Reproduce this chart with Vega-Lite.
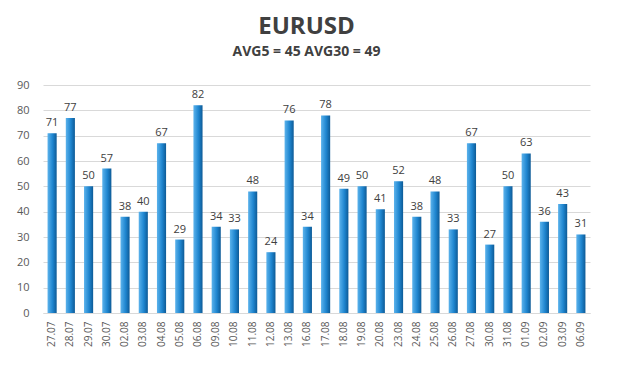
{
  "$schema": "https://vega.github.io/schema/vega-lite/v6.json",
  "autosize": "none",
  "width": 547,
  "height": 228,
  "padding": {"left": 43, "top": 85, "right": 30, "bottom": 79},
  "background": "white",
  "title": {
    "text": "EURUSD",
    "subtitle": "AVG5 = 45 AVG30 = 49",
    "anchor": "middle",
    "dx": -10,
    "offset": 20,
    "font": "Open Sans",
    "fontSize": 24,
    "fontWeight": "bold",
    "color": "#404040",
    "subtitleFont": "Open Sans",
    "subtitleFontSize": 14,
    "subtitleFontWeight": "bold",
    "subtitleColor": "#404040",
    "subtitlePadding": 6
  },
  "data": {
    "values": [
      {"date": "27.07", "v": 71}, {"date": "28.07", "v": 77}, {"date": "29.07", "v": 50},
      {"date": "30.07", "v": 57}, {"date": "02.08", "v": 38}, {"date": "03.08", "v": 40},
      {"date": "04.08", "v": 67}, {"date": "05.08", "v": 29}, {"date": "06.08", "v": 82},
      {"date": "09.08", "v": 34}, {"date": "10.08", "v": 33}, {"date": "11.08", "v": 48},
      {"date": "12.08", "v": 24}, {"date": "13.08", "v": 76}, {"date": "16.08", "v": 34},
      {"date": "17.08", "v": 78}, {"date": "18.08", "v": 49}, {"date": "19.08", "v": 50},
      {"date": "20.08", "v": 41}, {"date": "23.08", "v": 52}, {"date": "24.08", "v": 38},
      {"date": "25.08", "v": 48}, {"date": "26.08", "v": 33}, {"date": "27.08", "v": 67},
      {"date": "30.08", "v": 27}, {"date": "31.08", "v": 50}, {"date": "01.09", "v": 63},
      {"date": "02.09", "v": 36}, {"date": "03.09", "v": 43}, {"date": "06.09", "v": 31}
    ]
  },
  "encoding": {
    "x": {
      "field": "date", "type": "nominal", "sort": null,
      "scale": {"paddingInner": 0.5, "paddingOuter": 0.25},
      "axis": {
        "title": null, "labelAngle": -90, "labelFont": "Open Sans", "labelFontSize": 10,
        "labelColor": "#595959", "ticks": false, "domain": true, "domainColor": "#d9d9d9",
        "labelPadding": 8
      }
    },
    "y": {
      "field": "v", "type": "quantitative",
      "scale": {"domain": [0, 90]},
      "axis": {
        "title": null, "values": [0,10,20,30,40,50,60,70,80,90], "labelFont": "Open Sans",
        "labelFontSize": 11, "labelColor": "#595959", "ticks": false, "domain": false,
        "gridColor": "#d9d9d9", "labelPadding": 14
      }
    }
  },
  "layer": [
    {
      "mark": {
        "type": "bar",
        "color": {
          "gradient": "linear", "x1": 0, "x2": 1, "y1": 0, "y2": 0,
          "stops": [
            {"offset": 0, "color": "#5cb3ec"},
            {"offset": 0.55, "color": "#1f86d0"},
            {"offset": 1, "color": "#0d5a96"}
          ]
        }
      }
    },
    {
      "mark": {"type": "text", "dy": -10, "font": "Open Sans", "fontSize": 11, "color": "#404040"},
      "encoding": {"text": {"field": "v", "type": "quantitative"}}
    }
  ],
  "config": {"view": {"stroke": null}}
}
